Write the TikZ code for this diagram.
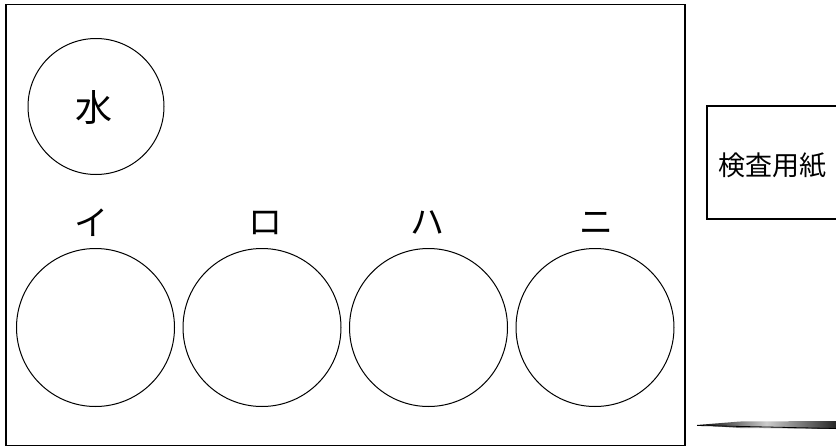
\documentclass[tikz,border=0pt]{standalone}
\usepackage{fontspec}
\newfontfamily\jpfont{Noto Sans CJK JP}
\begin{document}
\begin{tikzpicture}[x=1pt,y=-1pt,
  dish/.style={draw=black,line width=1pt,circle,inner sep=0pt,minimum size=158pt},
  lbl/.style={font=\jpfont\fontsize{34}{34}\selectfont,inner sep=0pt},
  frame/.style={draw=black,line width=1.3pt}]
\useasboundingbox (0,0) rectangle (836,447);
\draw[frame] (6,4.5) rectangle (685,445.5);
\node[draw=black,line width=1pt,circle,inner sep=0pt,minimum size=136pt] (water) at (96,106.5) {};
\node[font=\jpfont\fontsize{37}{37}\selectfont,inner sep=0pt] (watertext) at (94,107.5) {水};
\node[dish] (c1) at (95.5,327.5) {};
\node[dish] (c2) at (262,327.5) {};
\node[dish] (c3) at (428.5,327.5) {};
\node[dish] (c4) at (595,327.5) {};
\node[lbl] (l1) at (91,223) {イ};
\node[lbl] (l2) at (265,223) {ロ};
\node[lbl] (l3) at (427,223) {ハ};
\node[lbl] (l4) at (596,223) {ニ};
\coordinate (bt) at (836,106);
\coordinate (bb) at (836,219);
\draw[frame] (bt) -- (707,106) -- (707,219) -- (bb);
\node[font=\jpfont\fontsize{27}{27}\selectfont,inner sep=0pt,anchor=west] (paper) at (718,166) {検査用紙};
\shade[left color=black,right color=black!85,middle color=white!80!black] (697,425) -- (740,421.5) -- (836,421) -- (836,429) -- (740,428) -- cycle;
\draw[line width=0.8pt] (697,425.5) -- (836,428.5);
\end{tikzpicture}
\end{document}
